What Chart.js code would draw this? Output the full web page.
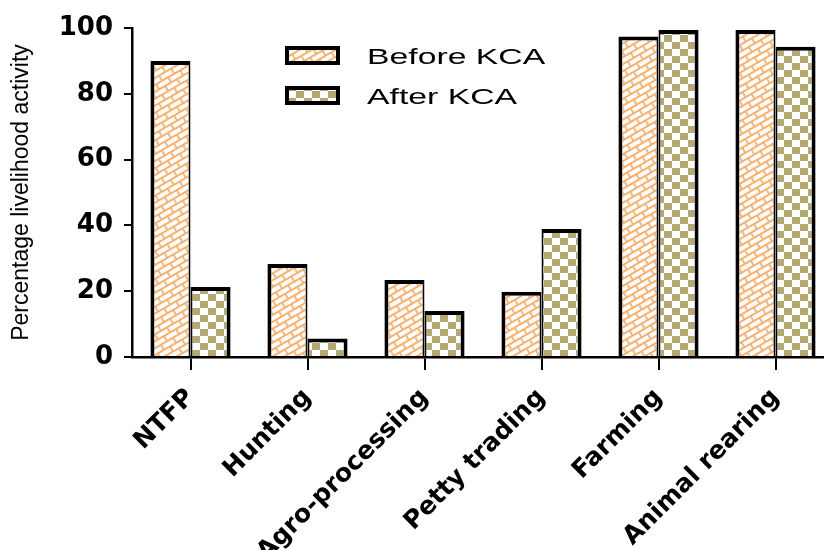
<!DOCTYPE html>
<html>
<head>
<meta charset="utf-8">
<script src="https://cdn.jsdelivr.net/npm/chart.js@4.4.0/dist/chart.umd.min.js"></script>
<style>
  html, body { margin: 0; padding: 0; background: #fff; overflow: hidden; }
  #wrap { width: 834px; height: 550px; }
</style>
</head>
<body>
<div id="wrap"><canvas id="myChart"></canvas></div>
<script>
const categories = ['NTFP', 'Hunting', 'Agro-processing', 'Petty trading', 'Farming', 'Animal rearing'];
const beforeKCA = [90, 28.3, 23.4, 19.8, 97.4, 99.4];
const afterKCA = [21.3, 5.6, 14, 38.9, 99.4, 94.3];
const yTicks = [0, 20, 40, 60, 80, 100];

// orange slanted brick fill
function brickPattern() {
    const c = document.createElement('canvas');
    c.width = 14; c.height = 12;
    const g = c.getContext('2d');
    g.fillStyle = '#fff';
    g.fillRect(0, 0, 14, 12);
    g.strokeStyle = '#f6b170';
    g.lineWidth = 1.8;
    g.beginPath();
    g.moveTo(0, 1); g.lineTo(14, 1);
    g.moveTo(0, 7); g.lineTo(14, 7);
    g.moveTo(2, 1); g.lineTo(2, 7);
    g.moveTo(9, 7); g.lineTo(9, 12);
    g.moveTo(9, 0); g.lineTo(9, 1);
    g.stroke();
    const p = g.createPattern(c, 'repeat');
    p.setTransform(new DOMMatrix().rotate(-30));
    return p;
}

// khaki checkerboard fill
function checkerPattern() {
    const c = document.createElement('canvas');
    c.width = 16; c.height = 14;
    const g = c.getContext('2d');
    g.fillStyle = '#fff';
    g.fillRect(0, 0, 16, 14);
    g.fillStyle = '#b4a873';
    g.fillRect(0, 0, 8, 7);
    g.fillRect(8, 7, 8, 7);
    return g.createPattern(c, 'repeat');
}

const boxLegend = {
    id: 'boxLegend',
    afterDraw(chart) {
        const ctx = chart.ctx;
        chart.data.datasets.forEach((ds, i) => {
            const y = 48 + i * 40;
            ctx.save();
            ctx.fillStyle = ds.backgroundColor;
            ctx.fillRect(287, y, 51, 15);
            ctx.lineWidth = 4;
            ctx.strokeStyle = '#000';
            ctx.strokeRect(287, y, 51, 15);
            ctx.translate(367, y + 15.5);
            ctx.scale(1.5, 1);
            ctx.font = '22.5px "Liberation Sans"';
            ctx.fillStyle = '#000';
            ctx.textBaseline = 'alphabetic';
            ctx.fillText(ds.label, 0, 0);
            ctx.restore();
        });
    }
};

const ctx = document.getElementById('myChart').getContext('2d');
const data = {
    labels: categories,
    datasets: [
        {
            label: 'Before KCA',
            data: beforeKCA,
            backgroundColor: brickPattern(),
            borderColor: '#000',
            borderWidth: { left: 4, right: 2, top: 4, bottom: 0 },
            borderSkipped: false,
            categoryPercentage: 0.685,
            barPercentage: 1
        },
        {
            label: 'After KCA',
            data: afterKCA,
            backgroundColor: checkerPattern(),
            borderColor: '#000',
            borderWidth: { left: 2, right: 4, top: 4, bottom: 0 },
            borderSkipped: false,
            categoryPercentage: 0.685,
            barPercentage: 1
        }
    ]
};

const config = {
    type: 'bar',
    data: data,
    options: {
        responsive: true,
        maintainAspectRatio: false,
        animation: false,
        layout: { padding: { top: 28, right: 0, left: 0, bottom: 0 } },
        scales: {
            x: {
                offset: true,
                afterFit: (s) => { s.height = 193; },
                border: { display: true, color: '#000', width: 2.5 },
                grid: {
                    display: true,
                    drawOnChartArea: false,
                    drawTicks: true,
                    tickLength: 13,
                    offset: false,
                    color: '#000',
                    lineWidth: 2
                },
                ticks: {
                    autoSkip: false,
                    maxRotation: 45,
                    minRotation: 45,
                    padding: 13,
                    color: '#000',
                    font: { family: 'DejaVu Sans', size: 25, weight: 'bold' }
                }
            },
            y: {
                min: 0,
                max: 100,
                afterFit: (s) => { s.width = 132; },
                afterBuildTicks: (s) => { s.ticks = yTicks.map(v => ({ value: v })); },
                border: { display: true, color: '#000', width: 2.5 },
                grid: {
                    display: true,
                    drawOnChartArea: false,
                    drawTicks: true,
                    tickLength: 8,
                    color: '#000',
                    lineWidth: 2
                },
                ticks: {
                    padding: 11,
                    color: '#000',
                    font: { family: 'DejaVu Sans', size: 26, weight: 'bold' }
                },
                title: {
                    display: true,
                    text: 'Percentage livelihood activity',
                    color: '#000',
                    padding: { top: 8, bottom: 0 },
                    font: { family: 'Liberation Sans', size: 23, weight: 'normal' }
                }
            }
        },
        plugins: {
            legend: { display: false },
            tooltip: { enabled: false }
        }
    },
    plugins: [boxLegend]
};

const myChart = new Chart(ctx, config);
</script>
</body>
</html>
